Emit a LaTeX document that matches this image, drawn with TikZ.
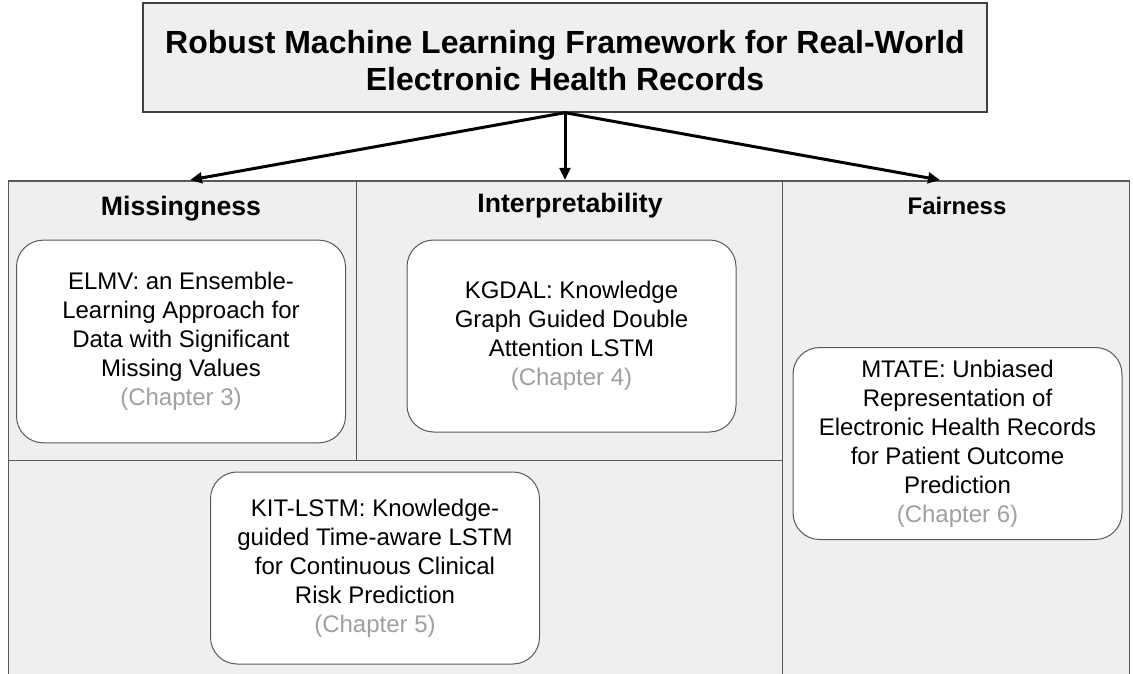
\documentclass[tikz,border=0pt]{standalone}
\usepackage{fontspec}
\setmainfont{Liberation Sans}
\usetikzlibrary{arrows.meta}
\definecolor{panelgray}{RGB}{239,239,239}
\definecolor{edgegray}{RGB}{89,89,89}
\definecolor{chapgray}{RGB}{160,160,160}
\newcommand{\chapref}[1]{\\\textcolor{chapgray}{(Chapter #1)}}

\tikzset{every picture/.style={line width=0.75pt}}
\tikzset{
  panel/.style={fill=panelgray, draw=edgegray, line width=0.75pt},
  heading/.style={font=\fontsize{20}{24}\selectfont\bfseries, inner sep=0.75pt},
  chapbox/.style={draw=edgegray, fill=white, rounded corners=20pt, align=center,
    font=\fontsize{18}{21.75}\selectfont, minimum width=246.75pt, minimum height=144pt, inner sep=0pt},
  titlebox/.style={draw=black!75, line width=1pt, fill=panelgray, align=center,
    font=\fontsize{24}{28}\selectfont\bfseries, minimum width=633pt, minimum height=81.75pt},
  branch/.style={-{Triangle[length=9pt,width=8pt]}, line width=2.25pt}
}

\begin{document}
\begin{tikzpicture}[x=0.75pt,y=0.75pt,yscale=-1,xscale=1]
      \path[use as bounding box] (0,0) rectangle (1133,674);
      \clip (0,0) rectangle (1133,674);

      %Shape: Rectangle [bottom panel, fairness panel]
      \draw[panel] (8,460) rectangle (782,700);
      \draw[panel] (782,181) rectangle (1129,700);
      %Shape: Rectangle [missingness, interpretability]
      \draw[panel] (8,181) rectangle (356,460);
      \draw[panel] (356,181) rectangle (782,460);

      % Text Node
      \node[heading] (missHead) at (181,209) {Missingness};
      % Text Node
      \node[heading] (interpHead) at (570,206) {Interpretability};
      % Text Node
      \node[heading, font=\fontsize{18}{22}\selectfont\bfseries] (fairHead) at (957,206) {Fairness};

      % Title
      \node[titlebox, text height=50pt] (title) at (565,57.5) {Robust Machine Learning Framework for Real-World\\Electronic Health Records};

      %Straight Lines
      \coordinate (missTop) at (190,180);
      \coordinate (interpTop) at (title.south |- missTop);
      \coordinate (fairTop) at (940,180);
      \draw[branch] (title.south) -- (missTop);
      \draw[branch] (title.south) -- (interpTop);
      \draw[branch] (title.south) -- (fairTop);

      %Rounded Rect
      \node[chapbox, minimum height=152pt] (elmv) at (181,341.5) {ELMV: an Ensemble-\\Learning Approach for\\Data with Significant\\Missing Values\chapref{3}};
      %Rounded Rect
      \node[chapbox] (kgdal) at (571.5,336) {KGDAL: Knowledge\\Graph Guided Double\\Attention LSTM\chapref{4}};
      %Rounded Rect
      \node[chapbox] (kitlstm) at (375,568) {KIT-LSTM: Knowledge-\\guided Time-aware LSTM\\for Continuous Clinical\\Risk Prediction\chapref{5}};
      %Rounded Rect
      \node[chapbox] (mtate) at (957.5,443.5) {MTATE: Unbiased\\Representation of\\Electronic Health Records\\for Patient Outcome\\Prediction\chapref{6}};
    \end{tikzpicture}
\end{document}
